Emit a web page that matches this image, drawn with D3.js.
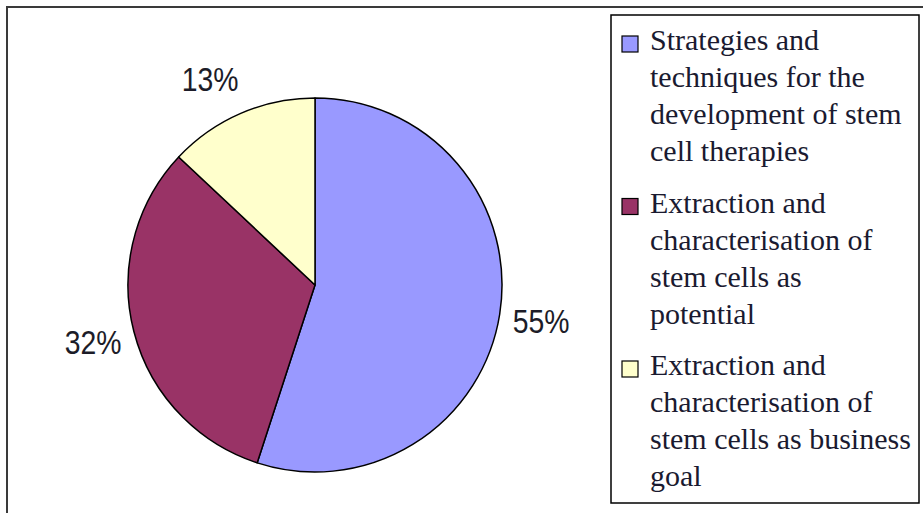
<!DOCTYPE html>
<html>
<head>
<meta charset="utf-8">
<script src="https://cdn.jsdelivr.net/npm/d3@7"></script>
<style>
  html, body { margin: 0; padding: 0; background: #fff; }
  svg { display: block; }
</style>
</head>
<body>
<svg id="chart" width="923" height="513"></svg>
<script>
const categories = [
  "Strategies and techniques for the development of stem cell therapies",
  "Extraction and characterisation of stem cells as potential",
  "Extraction and characterisation of stem cells as business goal"
];
const legendLines = [
  ["Strategies and", "techniques for the", "development of stem", "cell therapies"],
  ["Extraction and", "characterisation of", "stem cells as", "potential"],
  ["Extraction and", "characterisation of", "stem cells as business", "goal"]
];
const values = [55, 32, 13];
const valueLabels = ["55%", "32%", "13%"];
const colors = ["#9999FF", "#993366", "#FFFFCC"];

const svg = d3.select("#chart");

// outer chart border (extends past right/bottom edges)
svg.append("rect")
  .attr("x", 7).attr("y", 7)
  .attr("width", 940).attr("height", 530)
  .attr("fill", "#fff")
  .attr("stroke", "#3a3a3a")
  .attr("stroke-width", 2);

const cx = 315, cy = 285, r = 187;
const pie = d3.pie().sort(null).value(d => d)(values);
const arc = d3.arc().innerRadius(0).outerRadius(r);
const labelArc = d3.arc().innerRadius(229).outerRadius(229);

const g = svg.append("g").attr("transform", `translate(${cx},${cy})`);
g.selectAll("path.slice")
  .data(pie)
  .join("path")
  .attr("class", "slice")
  .attr("d", arc)
  .attr("fill", (d, i) => colors[i])
  .attr("stroke", "#000")
  .attr("stroke-width", 1.5)
  .attr("stroke-linejoin", "round");

g.selectAll("text.lbl")
  .data(pie)
  .join("text")
  .attr("class", "lbl")
  .attr("transform", d => {
    const [x, y] = labelArc.centroid(d);
    // labels on the upper-left side sit slightly further out horizontally
    const shift = (d.startAngle + d.endAngle) / 2 > 1.75 * Math.PI ? -14 : 0;
    return `translate(${x + shift},${y + (shift ? 4 : 0)}) scale(0.86,1)`;
  })
  .attr("text-anchor", "middle")
  .attr("dy", "0.36em")
  .attr("font-family", "'Liberation Sans Narrow', 'Liberation Sans', Arial, sans-serif")
  .attr("font-size", 33)
  .attr("fill", "#1c1c28")
  .text((d, i) => valueLabels[i]);

// legend
const lx = 611, ly = 15, lw = 308, lh = 488;
svg.append("rect")
  .attr("x", lx).attr("y", ly).attr("width", lw).attr("height", lh)
  .attr("fill", "#fff").attr("stroke", "#000").attr("stroke-width", 1.5);

const itemY = d3.scalePoint().domain(d3.range(categories.length)).range([50, 375]);
const lineStep = 37;
const lg = svg.append("g");
categories.forEach((c, i) => {
  const base = itemY(i);
  lg.append("rect")
    .attr("x", 622).attr("y", base - 14)
    .attr("width", 16).attr("height", 16)
    .attr("fill", colors[i]).attr("stroke", "#000").attr("stroke-width", 1.2);
  const t = lg.append("text")
    .attr("x", 650).attr("y", base)
    .attr("font-family", "'Liberation Serif', 'Times New Roman', serif")
    .attr("font-size", 30)
    .attr("fill", "#1a1a30");
  legendLines[i].forEach((ln, j) => {
    t.append("tspan").attr("x", 650).attr("y", base + j * lineStep).text(ln);
  });
});
</script>
</body>
</html>
